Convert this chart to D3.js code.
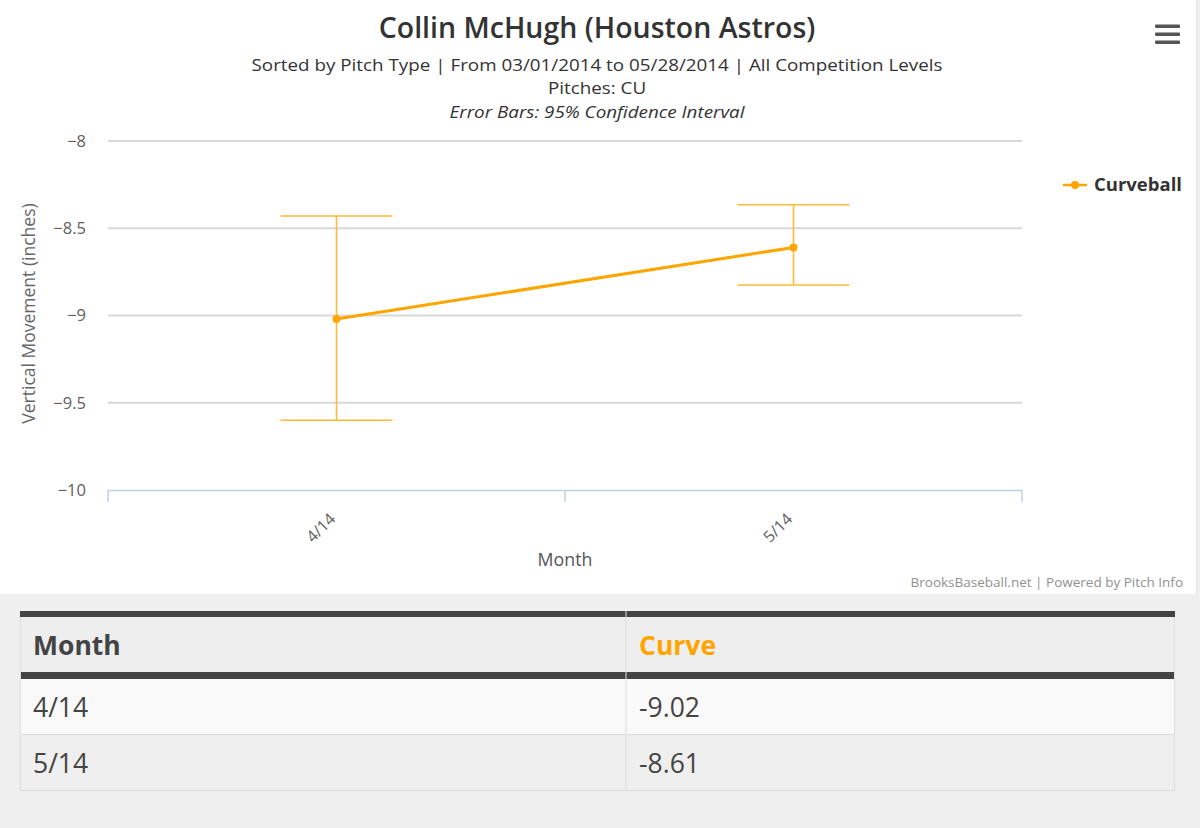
<!DOCTYPE html>
<html><head><meta charset="utf-8">
<script src="https://cdn.jsdelivr.net/npm/d3@7"></script>
<style>
html,body{margin:0;padding:0;background:#efefef;font-family:"Open Sans",sans-serif;}
#wrap{width:1200px;height:828px;position:relative;overflow:hidden;}
svg{position:absolute;left:0;top:0;}
</style></head>
<body><div id="wrap"></div>
<script>
const months = ["4/14", "5/14"];
const curveValues = [-9.02, -8.61];
const errLow = [-9.60, -8.825];
const errHigh = [-8.43, -8.365];
const yTicks = [-8, -8.5, -9, -9.5, -10];
const seriesName = "Curveball";
const tableHeaders = ["Month", "Curve"];

const W = 1200, H = 828;
const svg = d3.select("#wrap").append("svg").attr("width", W).attr("height", H);
const orange = "#ffa500";

// chart panel
svg.append("rect").attr("x",0).attr("y",0).attr("width",1196).attr("height",594).attr("fill","#fff");
svg.append("line").attr("x1",1196.5).attr("x2",1196.5).attr("y1",0).attr("y2",594).attr("stroke","#e4e4e4");

const plot = {left:108, right:1022, top:141, bottom:490};
const x = d3.scaleBand().domain(months).range([plot.left, plot.right]).padding(0);
const y = d3.scaleLinear().domain([-10, -8]).range([plot.bottom, plot.top]);

// title
svg.append("text").attr("x",597).attr("y",38).attr("text-anchor","middle")
  .attr("font-size",28.5).attr("font-weight",600).attr("fill","#333").text("Collin McHugh (Houston Astros)");
const subs = [["Sorted by Pitch Type | From 03/01/2014 to 05/28/2014 | All Competition Levels",71,"normal"],
              ["Pitches: CU",94,"normal"],["Error Bars: 95% Confidence Interval",118,"italic"]];
subs.forEach(s=>svg.append("text").attr("transform",`translate(597,${s[1]}) scale(1.14,1)`).attr("text-anchor","middle")
  .attr("font-size",16.5).attr("font-style",s[2]).attr("fill","#333").text(s[0]));

// menu icon
[26,34,42].forEach(yy=>svg.append("rect").attr("x",1155).attr("y",yy-1.5).attr("width",25).attr("height",3.5).attr("rx",1).attr("fill","#555"));

// gridlines
const gy = svg.append("g");
yTicks.filter(t=>t!==-10).forEach(t=>{
  gy.append("line").attr("x1",plot.left).attr("x2",plot.right).attr("y1",y(t)).attr("y2",y(t))
    .attr("stroke","#d8d8d8").attr("stroke-width",2);
});

// y axis labels
const yAxis = d3.axisLeft(y).tickValues(yTicks).tickSize(0).tickPadding(0)
  .tickFormat(d=>String(d).replace("-","\u2212"));
const yg = svg.append("g").attr("transform",`translate(${plot.left-22},0)`).call(yAxis);
yg.select(".domain").remove();
yg.selectAll("text").attr("font-size",16.5).attr("fill","#606060").attr("font-family","Open Sans").attr("dy","0.32em");

svg.append("text").attr("transform",`translate(35,${(plot.top+plot.bottom)/2-2}) rotate(-90)`)
  .attr("text-anchor","middle").attr("font-size",17.5).attr("fill","#666").text("Vertical Movement (inches)");

// x axis
const xAxis = d3.axisBottom(x).tickSize(0).tickPadding(0);
const xg = svg.append("g").attr("transform",`translate(0,${plot.bottom})`).call(xAxis);
xg.select(".domain").remove();
xg.selectAll(".tick line").remove();
xg.selectAll("text").attr("font-size",16).attr("fill","#606060").attr("font-family","Open Sans")
  .attr("text-anchor","end").attr("dy",0)
  .attr("transform","translate(0,30) rotate(-45)");
svg.append("line").attr("x1",plot.left).attr("x2",plot.right).attr("y1",plot.bottom+0.5).attr("y2",plot.bottom+0.5).attr("stroke","#c0d0e0").attr("stroke-width",1.5);
const bounds = months.map(m=>x(m)).concat([plot.right]);
bounds.forEach(bx=>svg.append("line").attr("x1",bx).attr("x2",bx).attr("y1",plot.bottom).attr("y2",plot.bottom+12).attr("stroke","#c0d0e0").attr("stroke-width",1.5));
svg.append("text").attr("x",(plot.left+plot.right)/2).attr("y",566).attr("text-anchor","middle")
  .attr("font-size",17.8).attr("fill","#555").text("Month");

// error bars
const cx = m => x(m) + x.bandwidth()/2;
const eb = svg.append("g").attr("stroke","#ffb936").attr("stroke-width",1.6).attr("fill","none");
months.forEach((m,i)=>{
  const c = cx(m);
  eb.append("line").attr("x1",c).attr("x2",c).attr("y1",y(errHigh[i])).attr("y2",y(errLow[i]));
  eb.append("line").attr("x1",c-56).attr("x2",c+56).attr("y1",y(errHigh[i])).attr("y2",y(errHigh[i]));
  eb.append("line").attr("x1",c-56).attr("x2",c+56).attr("y1",y(errLow[i])).attr("y2",y(errLow[i]));
});

// series line
const line = d3.line().x((d,i)=>cx(months[i])).y(d=>y(d));
svg.append("path").attr("d",line(curveValues)).attr("fill","none").attr("stroke",orange).attr("stroke-width",3);
svg.selectAll("circle.pt").data(curveValues).enter().append("circle").attr("class","pt")
  .attr("cx",(d,i)=>cx(months[i])).attr("cy",d=>y(d)).attr("r",4).attr("fill",orange);

// legend
svg.append("line").attr("x1",1063).attr("x2",1087).attr("y1",185).attr("y2",185).attr("stroke",orange).attr("stroke-width",2.5);
svg.append("circle").attr("cx",1075).attr("cy",185).attr("r",4).attr("fill",orange);
svg.append("text").attr("x",1094).attr("y",191).attr("font-size",18.5).attr("font-weight",700).attr("fill","#333").text(seriesName);

// credits
svg.append("text").attr("x",1183).attr("y",587).attr("text-anchor","end").attr("font-size",13.5).attr("fill","#909090")
  .text("BrooksBaseball.net | Powered by Pitch Info");

// table
const tL = 20, tR = 1175, split = 626;
const tg = svg.append("g");
tg.append("rect").attr("x",tL).attr("y",611).attr("width",tR-tL).attr("height",6).attr("fill","#444");
tg.append("rect").attr("x",tL).attr("y",617).attr("width",tR-tL).attr("height",55).attr("fill","#eeeeee");
tg.append("rect").attr("x",tL).attr("y",672).attr("width",tR-tL).attr("height",7).attr("fill","#444");
const rowY = [679, 735];
const rowFill = ["#f9f9f9", "#efefef"];
months.forEach((m,i)=>{
  tg.append("rect").attr("x",tL).attr("y",rowY[i]).attr("width",tR-tL).attr("height",55).attr("fill",rowFill[i]);
  tg.append("line").attr("x1",tL).attr("x2",tR).attr("y1",rowY[i]+55.5).attr("y2",rowY[i]+55.5).attr("stroke","#dddddd");
  tg.append("text").attr("x",33).attr("y",rowY[i]+38).attr("font-size",26.5).attr("fill","#444").text(m);
  tg.append("text").attr("x",639).attr("y",rowY[i]+38).attr("font-size",26.5).attr("fill","#444").text(curveValues[i].toFixed(2));
});
tg.append("line").attr("x1",split).attr("x2",split).attr("y1",611).attr("y2",790).attr("stroke","#dddddd");
tg.append("line").attr("x1",tL+0.5).attr("x2",tL+0.5).attr("y1",617).attr("y2",790).attr("stroke","#dddddd");
tg.append("line").attr("x1",tR-0.5).attr("x2",tR-0.5).attr("y1",617).attr("y2",790).attr("stroke","#dddddd");
tg.append("text").attr("x",33).attr("y",655).attr("font-size",26.5).attr("font-weight",700).attr("fill","#444").text(tableHeaders[0]);
tg.append("text").attr("x",639).attr("y",655).attr("font-size",26.5).attr("font-weight",700).attr("fill",orange).text(tableHeaders[1]);
</script></body></html>
